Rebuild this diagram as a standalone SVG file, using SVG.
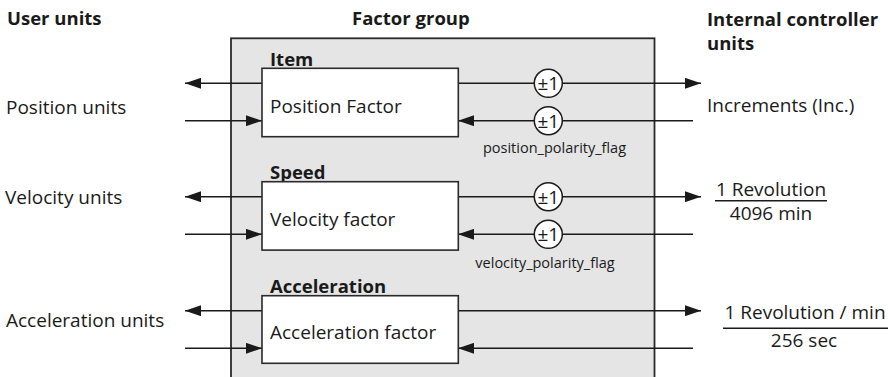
<svg xmlns="http://www.w3.org/2000/svg" width="888" height="377" viewBox="0 0 888 377">
  <style>
    text { font-family: "Open Sans", "Noto Sans", "Liberation Sans", sans-serif; fill: #1a1a1a; }
    .hd { font-size: 18.5px; font-weight: bold; }
    .tx { font-size: 19px; }
    .sm { font-size: 14.5px; }
    .mid { text-anchor: middle; }
    .panel { fill: #e5e5e5; stroke: #2a2a2a; stroke-width: 1.8; }
    .box { fill: #ffffff; stroke: #2a2a2a; stroke-width: 1.6; }
    .wire { fill: none; stroke: #1a1a1a; stroke-width: 1.5; }
    .arr { marker-end: url(#ah); }
    .pol { fill: #ffffff; stroke: #1a1a1a; stroke-width: 1.5; }
    .rule { stroke: #1a1a1a; stroke-width: 1.5; }
  </style>
  <defs>
    <marker id="ah" viewBox="0 0 16 11" refX="16" refY="5.5" markerWidth="16" markerHeight="11" markerUnits="userSpaceOnUse" orient="auto">
      <path d="M0,0 L16,5.5 L0,11 z" fill="#1a1a1a"/>
    </marker>
  </defs>

  <!-- column headings -->
  <g id="headings">
    <text class="hd" x="7" y="24.5">User units</text>
    <text class="hd" x="352" y="25">Factor group</text>
    <text class="hd" x="707" y="25.5">Internal controller</text>
    <text class="hd" x="707" y="49.5">units</text>
  </g>

  <!-- factor group panel -->
  <g id="factor-group">
    <rect class="panel" x="231" y="38.3" width="423.5" height="360"/>
  </g>

  <!-- signal lines -->
  <g id="connectors">
    <!-- position -->
    <line class="wire arr" x1="262" y1="83.3" x2="185" y2="83.3"/>
    <line class="wire arr" x1="185" y1="120.7" x2="262" y2="120.7"/>
    <line class="wire arr" x1="458" y1="83.3" x2="701" y2="83.3"/>
    <line class="wire arr" x1="693" y1="120.7" x2="458" y2="120.7"/>
    <!-- velocity -->
    <line class="wire arr" x1="262" y1="196.7" x2="185" y2="196.7"/>
    <line class="wire arr" x1="185" y1="234.3" x2="262" y2="234.3"/>
    <line class="wire arr" x1="458" y1="196.7" x2="701" y2="196.7"/>
    <line class="wire arr" x1="693" y1="234.3" x2="458" y2="234.3"/>
    <!-- acceleration -->
    <line class="wire arr" x1="262" y1="310.7" x2="185" y2="310.7"/>
    <line class="wire arr" x1="185" y1="348.3" x2="262" y2="348.3"/>
    <line class="wire arr" x1="458" y1="310.7" x2="701" y2="310.7"/>
    <line class="wire arr" x1="693" y1="348.3" x2="458" y2="348.3"/>
  </g>

  <!-- position factor -->
  <g id="position-factor">
    <text class="hd" x="270" y="66">Item</text>
    <rect class="box" x="262" y="68.3" width="196.3" height="68.4"/>
    <text class="tx" x="270" y="112.5">Position Factor</text>
  </g>
  <g id="position-polarity">
    <circle class="pol" cx="548.3" cy="83.3" r="14"/>
    <text class="tx mid" x="548.3" y="90.3">±1</text>
    <circle class="pol" cx="548.3" cy="120.7" r="14"/>
    <text class="tx mid" x="548.3" y="127.7">±1</text>
    <text class="sm mid" x="554.5" y="153">position_polarity_flag</text>
  </g>

  <!-- velocity factor -->
  <g id="velocity-factor">
    <text class="hd" x="270" y="179.3">Speed</text>
    <rect class="box" x="262" y="181.7" width="196.3" height="68.4"/>
    <text class="tx" x="270" y="226">Velocity factor</text>
  </g>
  <g id="velocity-polarity">
    <circle class="pol" cx="548.3" cy="196.7" r="14"/>
    <text class="tx mid" x="548.3" y="203.7">±1</text>
    <circle class="pol" cx="548.3" cy="234.3" r="14"/>
    <text class="tx mid" x="548.3" y="241.3">±1</text>
    <text class="sm mid" x="545" y="268.3">velocity_polarity_flag</text>
  </g>

  <!-- acceleration factor -->
  <g id="acceleration-factor">
    <text class="hd" x="270" y="293.3">Acceleration</text>
    <rect class="box" x="262" y="295.7" width="196.3" height="67.6"/>
    <text class="tx" x="270" y="339.3">Acceleration factor</text>
  </g>

  <!-- user unit labels -->
  <g id="user-position"><text class="tx" x="6" y="114">Position units</text></g>
  <g id="user-velocity"><text class="tx" x="5" y="204.3">Velocity units</text></g>
  <g id="user-acceleration"><text class="tx" x="6" y="326.7">Acceleration units</text></g>

  <!-- internal unit labels -->
  <g id="internal-position"><text class="tx" x="707" y="111.7">Increments (Inc.)</text></g>
  <g id="internal-velocity">
    <text class="tx mid" x="771" y="196.2">1 Revolution</text>
    <line class="rule" x1="715" y1="200.7" x2="827" y2="200.7"/>
    <text class="tx mid" x="771" y="220">4096 min</text>
  </g>
  <g id="internal-acceleration">
    <text class="tx mid" x="805" y="319.3">1 Revolution / min</text>
    <line class="rule" x1="723" y1="328.3" x2="888" y2="328.3"/>
    <text class="tx mid" x="804" y="346.7">256 sec</text>
  </g>
</svg>
